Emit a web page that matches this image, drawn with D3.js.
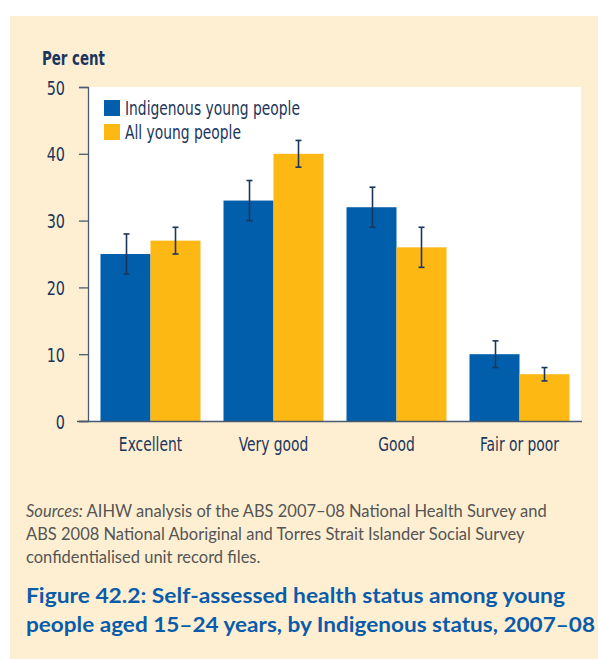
<!DOCTYPE html>
<html><head><meta charset="utf-8">
<script src="https://cdn.jsdelivr.net/npm/d3@7"></script>
<style>
html,body{margin:0;padding:0;background:#fff;}
svg{display:block;}
.cond{font-family:"Liberation Sans Narrow","DejaVu Sans Condensed","Arial Narrow",sans-serif;}
</style></head>
<body>
<svg id="chart" width="598" height="659"></svg>
<script>
const categories = ["Excellent", "Very good", "Good", "Fair or poor"];
const seriesNames = ["Indigenous young people", "All young people"];
const indigenous = [25, 33, 32, 10];
const indigenousLow = [22, 30, 29, 8];
const indigenousHigh = [28, 36, 35, 12];
const allYoung = [27, 40, 26, 7];
const allYoungLow = [25, 38, 23, 6];
const allYoungHigh = [29, 42, 29, 8];
const yTicks = [0, 10, 20, 30, 40, 50];
const colors = ["#005EAB", "#FDB813"];

(function(){
const svg = d3.select("#chart");
const navy = "#1B365D";

function squeezeTo(sel, target) {
  sel.each(function() {
    d3.select(this).attr("textLength", target).attr("lengthAdjust", "spacingAndGlyphs");
  });
}
function squeeze(sel, f) {
  sel.each(function() {
    const w = this.getComputedTextLength();
    d3.select(this).attr("textLength", w * f).attr("lengthAdjust", "spacingAndGlyphs");
  });
}

svg.append("rect").attr("x", 10).attr("y", 16).attr("width", 588).attr("height", 643).attr("fill", "#FEEFD2");

const pl = 89, pr = 581, pt = 87, pb = 421;
svg.append("rect").attr("x", pl).attr("y", pt).attr("width", pr - pl).attr("height", pb - pt).attr("fill", "#fff");

const x = d3.scaleBand().domain(categories).range([pl, pr]).paddingInner(0.187).paddingOuter(0.0935);
const xs = d3.scaleBand().domain(seriesNames).range([0, x.bandwidth()]);
const y = d3.scaleLinear().domain([0, 50]).range([pb, pt]);

const series = [
  {name: seriesNames[0], vals: indigenous, lo: indigenousLow, hi: indigenousHigh, color: colors[0]},
  {name: seriesNames[1], vals: allYoung, lo: allYoungLow, hi: allYoungHigh, color: colors[1]}
];

series.forEach(s => {
  svg.append("g").selectAll("rect").data(categories).join("rect")
    .attr("x", c => x(c) + xs(s.name))
    .attr("y", (c, i) => y(s.vals[i]))
    .attr("width", xs.bandwidth())
    .attr("height", (c, i) => y(0) - y(s.vals[i]))
    .attr("fill", s.color);
});

series.forEach(s => {
  const g = svg.append("g").attr("stroke", navy).attr("stroke-width", 1.6);
  categories.forEach((c, i) => {
    const cx = Math.round(x(c) + xs(s.name) + xs.bandwidth() / 2) + 0.5;
    g.append("line").attr("x1", cx).attr("x2", cx).attr("y1", y(s.hi[i])).attr("y2", y(s.lo[i]));
    [s.hi[i], s.lo[i]].forEach(v => {
      g.append("line").attr("x1", cx - 3).attr("x2", cx + 3).attr("y1", y(v)).attr("y2", y(v));
    });
  });
});

const yAxis = d3.axisLeft(y).tickValues(yTicks).tickSize(9).tickPadding(14).tickFormat(d3.format("d"));
const gy = svg.append("g").attr("transform", `translate(${pl - 1},0)`).call(yAxis);
gy.select(".domain").attr("stroke", "#4a5a70").attr("stroke-width", 1.3);
gy.selectAll(".tick line").attr("stroke", "#4a5a70").attr("stroke-width", 1.3);
gy.selectAll(".tick text").attr("class", "cond").attr("font-size", 20).attr("fill", navy).attr("dy", "0.35em");
squeeze(gy.selectAll(".tick text"), 0.8);

svg.append("line").attr("x1", pl - 12).attr("x2", pr + 1).attr("y1", pb + 0.5).attr("y2", pb + 0.5)
  .attr("stroke", "#4a5a70").attr("stroke-width", 1.6);

const xAxis = d3.axisBottom(x).tickSize(0).tickPadding(16);
const gx = svg.append("g").attr("transform", `translate(0,${pb})`).call(xAxis);
gx.select(".domain").remove();
gx.selectAll(".tick text").attr("class", "cond").attr("font-size", 20).attr("fill", navy);
squeeze(gx.selectAll(".tick text"), 0.77);

const yt = svg.append("text").attr("class", "cond").attr("x", 42).attr("y", 65).attr("font-size", 20).attr("font-weight", "bold")
  .attr("fill", navy).text("Per cent");
squeezeTo(yt, 63);

series.forEach((s, i) => {
  const ly = 100 + i * 24;
  svg.append("rect").attr("x", 104).attr("y", ly).attr("width", 16).attr("height", 16).attr("fill", s.color);
  const lt = svg.append("text").attr("class", "cond").attr("x", 125).attr("y", ly + 14.5).attr("font-size", 20).attr("fill", navy).text(s.name);
  squeeze(lt, 0.77);
});

const srcLines = [
  [["Sources:", true], [" AIHW analysis of the ABS 2007–08 National Health Survey and", false]],
  [["ABS 2008 National Aboriginal and Torres Strait Islander Social Survey", false]],
  [["confidentialised unit record files.", false]]
];
srcLines.forEach((ln, i) => {
  const t = svg.append("text").attr("font-family", "Lato, 'Open Sans', sans-serif").attr("font-size", 16.5).attr("fill", "#555")
    .attr("x", 26).attr("y", 517 + i * 23);
  ln.forEach(([txt, it]) => t.append("tspan").attr("font-style", it ? "italic" : "normal").text(txt));
});

const titleLines = ["Figure 42.2: Self-assessed health status among young", "people aged 15–24 years, by Indigenous status, 2007–08"];
const titleW = [539, 569];
titleLines.forEach((t, i) => {
  svg.append("text").attr("font-family", "Lato, 'Open Sans', sans-serif").attr("font-weight", "bold").attr("font-size", 21)
    .attr("fill", "#0A5CAA").attr("x", 26).attr("y", 603 + i * 29)
    .attr("textLength", titleW[i]).attr("lengthAdjust", "spacingAndGlyphs").text(t);
});
})();
</script>
</body></html>
